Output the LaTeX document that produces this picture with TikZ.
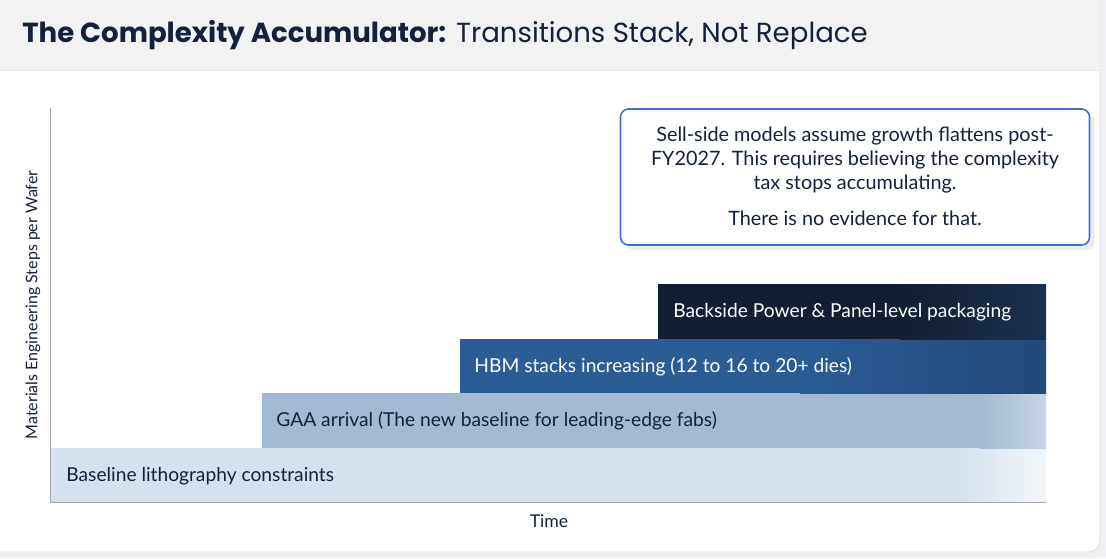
\documentclass[tikz,border=0pt]{standalone}
\usepackage{fontspec}
\setmainfont{Lato}
\newfontfamily\titlefont{Poppins}
\usetikzlibrary{positioning,shadows}
\definecolor{navy}{HTML}{14213A}
\definecolor{basefill}{HTML}{D5E1ED}
\definecolor{gaafill}{HTML}{A2BAD4}
\definecolor{hbmfill}{HTML}{2B5C96}
\definecolor{bspfill}{HTML}{131E33}
\definecolor{boxblue}{HTML}{3D72D2}
\definecolor{paper}{HTML}{EEF0F4}

\begin{document}
\begin{tikzpicture}
		[x=0.5pt,y=-0.5pt,
		bar text/.style={font=\fontsize{9.6}{11}\selectfont,anchor=west,inner sep=0pt},
		note/.style={align=center,font=\fontsize{9.9}{12}\selectfont,text=navy}]
		\useasboundingbox (0,0) rectangle (1106,558);
		\fill[paper] (0,0) rectangle (1106,558);
		\fill[white,rounded corners=6pt,draw=black!12] (-10,-10) rectangle (1100,552);
		\fill[black!5] (-10,-10) rectangle (1100,70);
		\draw[black!10] (0,70) -- (1100,70);
		
		% title
		\node[anchor=west,inner sep=0pt,text=navy] (title) at (22,35)
		{\titlefont\fontsize{13.8}{16}\selectfont\textbf{The Complexity Accumulator:} Transitions Stack, Not Replace};
		
		% bars
		\fill[basefill] (50,448) rectangle (962,502);
		\shade[left color=basefill,right color=white!70!basefill] (960,448) rectangle (1046,502);
		\fill[gaafill] (262,393) rectangle (982,448);
		\shade[left color=gaafill,right color=white!40!gaafill] (980,393) rectangle (1046,448);
		\fill[hbmfill] (460,339) rectangle (802,393);
		\shade[left color=hbmfill,right color=hbmfill!80!black] (800,339) rectangle (1046,393);
		\fill[bspfill] (658,284) rectangle (902,339);
		\shade[left color=bspfill,right color=bspfill!70!hbmfill] (900,284) rectangle (1046,339);
		
		\node[bar text,text=navy] (base) at (66,476) {Baseline lithography constraints};
		\node[bar text,text=navy] (gaa) at (276,421) {GAA arrival (The new baseline for leading-edge fabs)};
		\node[bar text,text=white] (hbm) at (474,367) {HBM stacks increasing (12 to 16 to 20+ dies)};
		\node[bar text,text=white] (bsp) at (673,312) {Backside Power \& Panel-level packaging};
		
		% axes
		\draw[black!35] (50,108) coordinate (ytop) -- (50,502) coordinate (origin) -- (1046,502) coordinate (xend);
		\node[rotate=90,font=\fontsize{8}{10}\selectfont,text=navy] (ylab) at (33,305) {Materials Engineering Steps per Wafer};
		\node[font=\fontsize{8.8}{10}\selectfont,text=navy] (xlab) at (549,521) {Time};
		
		% callout
		\node[draw=boxblue,line width=0.8pt,fill=white,rounded corners=4pt,drop shadow={opacity=0.15},
		minimum width=234.5pt,minimum height=68pt] (callout) at (855,177) {};
		\node[note] (claim) at (855,160) {Sell-side models assume growth flattens post-\\FY2027. This requires believing the complexity\\tax stops accumulating.};
		\node[note] (verdict) at (855,218) {There is no evidence for that.};
\end{tikzpicture}
\end{document}
